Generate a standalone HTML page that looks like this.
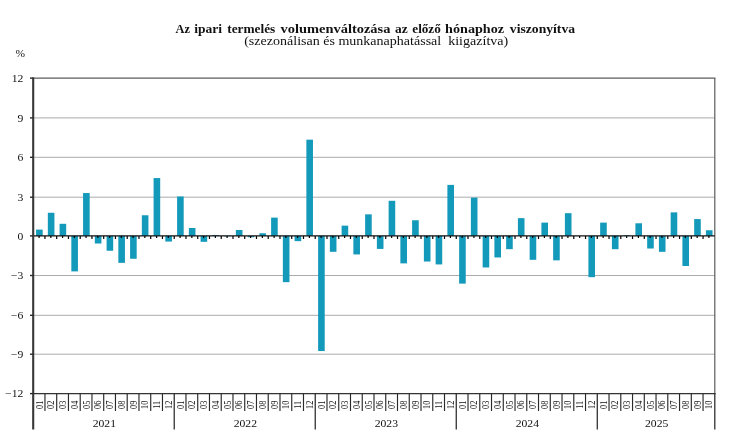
<!DOCTYPE html><html lang="hu"><head><meta charset="utf-8"><title>Az ipari termelés volumenváltozása</title>
<style>html,body{margin:0;padding:0;background:#fff}body{width:730px;height:441px;overflow:hidden}svg{display:block}text{font-family:"Liberation Serif",serif;fill:#111}</style></head><body>
<svg width="730" height="441" viewBox="0 0 730 441">
<rect width="730" height="441" fill="#fff"/>
<text y="32.6" font-size="13.2" font-weight="bold" fill="#000"><tspan x="175.5" textLength="14.4" lengthAdjust="spacingAndGlyphs">Az</tspan> <tspan x="194.2" textLength="27.9" lengthAdjust="spacingAndGlyphs">ipari</tspan> <tspan x="227.2" textLength="48.1" lengthAdjust="spacingAndGlyphs">termelés</tspan> <tspan x="280.5" textLength="109.9" lengthAdjust="spacingAndGlyphs">volumenváltozása</tspan> <tspan x="395.0" textLength="12.7" lengthAdjust="spacingAndGlyphs">az</tspan> <tspan x="412.3" textLength="28.5" lengthAdjust="spacingAndGlyphs">előző</tspan> <tspan x="445.1" textLength="59.0" lengthAdjust="spacingAndGlyphs">hónaphoz</tspan> <tspan x="509.8" textLength="65.3" lengthAdjust="spacingAndGlyphs">viszonyítva</tspan></text>
<text x="244.2" y="45.4" textLength="264" lengthAdjust="spacingAndGlyphs" font-size="13" xml:space="preserve">(szezonálisan és munkanaphatással  kiigazítva)</text>
<text transform="translate(15.4 56.8) scale(1.1 1)" font-size="10.4">%</text>
<line x1="33.2" x2="714.8" y1="78.10" y2="78.10" stroke="#5c5c5c" stroke-width="1.2" stroke-linecap="square"/>
<line x1="33.2" x2="714.8" y1="117.90" y2="117.90" stroke="#a6a6a6" stroke-width="0.95"/>
<line x1="33.2" x2="714.8" y1="157.30" y2="157.30" stroke="#a6a6a6" stroke-width="0.95"/>
<line x1="33.2" x2="714.8" y1="197.20" y2="197.20" stroke="#a6a6a6" stroke-width="0.95"/>
<line x1="33.2" x2="714.8" y1="275.50" y2="275.50" stroke="#a6a6a6" stroke-width="0.95"/>
<line x1="33.2" x2="714.8" y1="315.30" y2="315.30" stroke="#a6a6a6" stroke-width="0.95"/>
<line x1="33.2" x2="714.8" y1="354.20" y2="354.20" stroke="#a6a6a6" stroke-width="0.95"/>
<line x1="714.8" x2="714.8" y1="78.1" y2="393.6" stroke="#5c5c5c" stroke-width="1.2"/>
<rect x="36.08" y="229.59" width="6.6" height="6.31" fill="#1399ba"/>
<rect x="47.83" y="212.76" width="6.6" height="23.14" fill="#1399ba"/>
<rect x="59.58" y="223.81" width="6.6" height="12.09" fill="#1399ba"/>
<rect x="71.33" y="235.90" width="6.6" height="35.49" fill="#1399ba"/>
<rect x="83.08" y="193.04" width="6.6" height="42.86" fill="#1399ba"/>
<rect x="94.83" y="235.90" width="6.6" height="7.62" fill="#1399ba"/>
<rect x="106.59" y="235.90" width="6.6" height="14.85" fill="#1399ba"/>
<rect x="118.34" y="235.90" width="6.6" height="26.95" fill="#1399ba"/>
<rect x="130.09" y="235.90" width="6.6" height="22.87" fill="#1399ba"/>
<rect x="141.84" y="215.26" width="6.6" height="20.64" fill="#1399ba"/>
<rect x="153.59" y="178.06" width="6.6" height="57.84" fill="#1399ba"/>
<rect x="165.34" y="235.90" width="6.6" height="5.65" fill="#1399ba"/>
<rect x="177.10" y="196.46" width="6.6" height="39.44" fill="#1399ba"/>
<rect x="188.85" y="228.01" width="6.6" height="7.89" fill="#1399ba"/>
<rect x="200.60" y="235.90" width="6.6" height="5.92" fill="#1399ba"/>
<rect x="212.35" y="234.98" width="6.6" height="0.92" fill="#1399ba"/>
<rect x="224.10" y="235.90" width="6.6" height="0.39" fill="#1399ba"/>
<rect x="235.86" y="229.98" width="6.6" height="5.92" fill="#1399ba"/>
<rect x="247.61" y="235.90" width="6.6" height="1.31" fill="#1399ba"/>
<rect x="259.36" y="233.27" width="6.6" height="2.63" fill="#1399ba"/>
<rect x="271.11" y="217.63" width="6.6" height="18.27" fill="#1399ba"/>
<rect x="282.86" y="235.90" width="6.6" height="46.27" fill="#1399ba"/>
<rect x="294.61" y="235.90" width="6.6" height="5.26" fill="#1399ba"/>
<rect x="306.37" y="139.67" width="6.6" height="96.23" fill="#1399ba"/>
<rect x="318.12" y="235.90" width="6.6" height="115.16" fill="#1399ba"/>
<rect x="329.87" y="235.90" width="6.6" height="15.91" fill="#1399ba"/>
<rect x="341.62" y="225.65" width="6.6" height="10.25" fill="#1399ba"/>
<rect x="353.37" y="235.90" width="6.6" height="18.54" fill="#1399ba"/>
<rect x="365.12" y="214.34" width="6.6" height="21.56" fill="#1399ba"/>
<rect x="376.88" y="235.90" width="6.6" height="13.01" fill="#1399ba"/>
<rect x="388.63" y="200.80" width="6.6" height="35.10" fill="#1399ba"/>
<rect x="400.38" y="235.90" width="6.6" height="27.47" fill="#1399ba"/>
<rect x="412.13" y="220.26" width="6.6" height="15.64" fill="#1399ba"/>
<rect x="423.88" y="235.90" width="6.6" height="25.63" fill="#1399ba"/>
<rect x="435.63" y="235.90" width="6.6" height="28.53" fill="#1399ba"/>
<rect x="447.39" y="184.89" width="6.6" height="51.01" fill="#1399ba"/>
<rect x="459.14" y="235.90" width="6.6" height="47.72" fill="#1399ba"/>
<rect x="470.89" y="197.65" width="6.6" height="38.25" fill="#1399ba"/>
<rect x="482.64" y="235.90" width="6.6" height="31.55" fill="#1399ba"/>
<rect x="494.39" y="235.90" width="6.6" height="21.56" fill="#1399ba"/>
<rect x="506.14" y="235.90" width="6.6" height="13.28" fill="#1399ba"/>
<rect x="517.90" y="218.15" width="6.6" height="17.75" fill="#1399ba"/>
<rect x="529.65" y="235.90" width="6.6" height="23.93" fill="#1399ba"/>
<rect x="541.40" y="222.62" width="6.6" height="13.28" fill="#1399ba"/>
<rect x="553.15" y="235.90" width="6.6" height="24.45" fill="#1399ba"/>
<rect x="564.90" y="213.16" width="6.6" height="22.74" fill="#1399ba"/>
<rect x="588.41" y="235.90" width="6.6" height="41.28" fill="#1399ba"/>
<rect x="600.16" y="222.62" width="6.6" height="13.28" fill="#1399ba"/>
<rect x="611.91" y="235.90" width="6.6" height="13.28" fill="#1399ba"/>
<rect x="623.66" y="235.24" width="6.6" height="0.66" fill="#1399ba"/>
<rect x="635.41" y="223.28" width="6.6" height="12.62" fill="#1399ba"/>
<rect x="647.17" y="235.90" width="6.6" height="12.62" fill="#1399ba"/>
<rect x="658.92" y="235.90" width="6.6" height="15.91" fill="#1399ba"/>
<rect x="670.67" y="212.37" width="6.6" height="23.53" fill="#1399ba"/>
<rect x="682.42" y="235.90" width="6.6" height="30.10" fill="#1399ba"/>
<rect x="694.17" y="219.07" width="6.6" height="16.83" fill="#1399ba"/>
<rect x="705.92" y="230.25" width="6.6" height="5.65" fill="#1399ba"/>
<line x1="33.2" x2="714.8" y1="235.90" y2="235.90" stroke="#111" stroke-width="1.4"/>
<path d="M39.08 235.90v2.2M44.95 235.90v3.2M50.83 235.90v2.2M56.70 235.90v3.2M62.58 235.90v2.2M68.46 235.90v3.2M74.33 235.90v2.2M80.21 235.90v3.2M86.08 235.90v2.2M91.96 235.90v3.2M97.83 235.90v2.2M103.71 235.90v3.2M109.59 235.90v2.2M115.46 235.90v3.2M121.34 235.90v2.2M127.21 235.90v3.2M133.09 235.90v2.2M138.97 235.90v3.2M144.84 235.90v2.2M150.72 235.90v3.2M156.59 235.90v2.2M162.47 235.90v3.2M168.34 235.90v2.2M174.22 235.90v3.2M180.10 235.90v2.2M185.97 235.90v3.2M191.85 235.90v2.2M197.72 235.90v3.2M203.60 235.90v2.2M209.48 235.90v3.2M215.35 235.90v2.2M221.23 235.90v3.2M227.10 235.90v2.2M232.98 235.90v3.2M238.86 235.90v2.2M244.73 235.90v3.2M250.61 235.90v2.2M256.48 235.90v3.2M262.36 235.90v2.2M268.23 235.90v3.2M274.11 235.90v2.2M279.99 235.90v3.2M285.86 235.90v2.2M291.74 235.90v3.2M297.61 235.90v2.2M303.49 235.90v3.2M309.37 235.90v2.2M315.24 235.90v3.2M321.12 235.90v2.2M326.99 235.90v3.2M332.87 235.90v2.2M338.74 235.90v3.2M344.62 235.90v2.2M350.50 235.90v3.2M356.37 235.90v2.2M362.25 235.90v3.2M368.12 235.90v2.2M374.00 235.90v3.2M379.88 235.90v2.2M385.75 235.90v3.2M391.63 235.90v2.2M397.50 235.90v3.2M403.38 235.90v2.2M409.26 235.90v3.2M415.13 235.90v2.2M421.01 235.90v3.2M426.88 235.90v2.2M432.76 235.90v3.2M438.63 235.90v2.2M444.51 235.90v3.2M450.39 235.90v2.2M456.26 235.90v3.2M462.14 235.90v2.2M468.01 235.90v3.2M473.89 235.90v2.2M479.77 235.90v3.2M485.64 235.90v2.2M491.52 235.90v3.2M497.39 235.90v2.2M503.27 235.90v3.2M509.14 235.90v2.2M515.02 235.90v3.2M520.90 235.90v2.2M526.77 235.90v3.2M532.65 235.90v2.2M538.52 235.90v3.2M544.40 235.90v2.2M550.28 235.90v3.2M556.15 235.90v2.2M562.03 235.90v3.2M567.90 235.90v2.2M573.78 235.90v3.2M579.66 235.90v2.2M585.53 235.90v3.2M591.41 235.90v2.2M597.28 235.90v3.2M603.16 235.90v2.2M609.03 235.90v3.2M614.91 235.90v2.2M620.79 235.90v3.2M626.66 235.90v2.2M632.54 235.90v3.2M638.41 235.90v2.2M644.29 235.90v3.2M650.17 235.90v2.2M656.04 235.90v3.2M661.92 235.90v2.2M667.79 235.90v3.2M673.67 235.90v2.2M679.54 235.90v3.2M685.42 235.90v2.2M691.30 235.90v3.2M697.17 235.90v2.2M703.05 235.90v3.2M708.92 235.90v2.2" stroke="#000" stroke-width="1.2" fill="none"/>
<line x1="33.2" x2="33.2" y1="77.5" y2="429.5" stroke="#383838" stroke-width="2.1"/>
<line x1="30.000000000000004" x2="33.2" y1="78.10" y2="78.10" stroke="#2a2a2a" stroke-width="1.4"/>
<text transform="translate(23.4 81.80) scale(1.1 1)" text-anchor="end" font-size="10.6">12</text>
<line x1="30.000000000000004" x2="33.2" y1="117.90" y2="117.90" stroke="#2a2a2a" stroke-width="1.4"/>
<text transform="translate(23.4 121.60) scale(1.1 1)" text-anchor="end" font-size="10.6">9</text>
<line x1="30.000000000000004" x2="33.2" y1="157.30" y2="157.30" stroke="#2a2a2a" stroke-width="1.4"/>
<text transform="translate(23.4 161.00) scale(1.1 1)" text-anchor="end" font-size="10.6">6</text>
<line x1="30.000000000000004" x2="33.2" y1="197.20" y2="197.20" stroke="#2a2a2a" stroke-width="1.4"/>
<text transform="translate(23.4 200.90) scale(1.1 1)" text-anchor="end" font-size="10.6">3</text>
<line x1="30.000000000000004" x2="33.2" y1="235.90" y2="235.90" stroke="#2a2a2a" stroke-width="1.4"/>
<text transform="translate(23.4 239.60) scale(1.1 1)" text-anchor="end" font-size="10.6">0</text>
<line x1="30.000000000000004" x2="33.2" y1="275.50" y2="275.50" stroke="#2a2a2a" stroke-width="1.4"/>
<text transform="translate(23.4 279.20) scale(1.1 1)" text-anchor="end" font-size="10.6">−3</text>
<line x1="30.000000000000004" x2="33.2" y1="315.30" y2="315.30" stroke="#2a2a2a" stroke-width="1.4"/>
<text transform="translate(23.4 319.00) scale(1.1 1)" text-anchor="end" font-size="10.6">−6</text>
<line x1="30.000000000000004" x2="33.2" y1="354.20" y2="354.20" stroke="#2a2a2a" stroke-width="1.4"/>
<text transform="translate(23.4 357.90) scale(1.1 1)" text-anchor="end" font-size="10.6">−9</text>
<line x1="30.000000000000004" x2="33.2" y1="393.60" y2="393.60" stroke="#2a2a2a" stroke-width="1.4"/>
<text transform="translate(23.4 397.30) scale(1.1 1)" text-anchor="end" font-size="10.6">−12</text>
<line x1="33.2" x2="715.5999999999999" y1="393.6" y2="393.6" stroke="#333" stroke-width="1.2"/>
<path d="M44.95 393.60V411M56.70 393.60V411M68.46 393.60V411M80.21 393.60V411M91.96 393.60V411M103.71 393.60V411M115.46 393.60V411M127.21 393.60V411M138.97 393.60V411M150.72 393.60V411M162.47 393.60V411M185.97 393.60V411M197.72 393.60V411M209.48 393.60V411M221.23 393.60V411M232.98 393.60V411M244.73 393.60V411M256.48 393.60V411M268.23 393.60V411M279.99 393.60V411M291.74 393.60V411M303.49 393.60V411M326.99 393.60V411M338.74 393.60V411M350.50 393.60V411M362.25 393.60V411M374.00 393.60V411M385.75 393.60V411M397.50 393.60V411M409.26 393.60V411M421.01 393.60V411M432.76 393.60V411M444.51 393.60V411M468.01 393.60V411M479.77 393.60V411M491.52 393.60V411M503.27 393.60V411M515.02 393.60V411M526.77 393.60V411M538.52 393.60V411M550.28 393.60V411M562.03 393.60V411M573.78 393.60V411M585.53 393.60V411M609.03 393.60V411M620.79 393.60V411M632.54 393.60V411M644.29 393.60V411M656.04 393.60V411M667.79 393.60V411M679.54 393.60V411M691.30 393.60V411M703.05 393.60V411" stroke="#2a2a2a" stroke-width="1.15" fill="none"/>
<path d="M174.22 393.60V429.6M315.24 393.60V429.6M456.26 393.60V429.6M597.28 393.60V429.6M714.80 393.60V429.6" stroke="#2a2a2a" stroke-width="1.25" fill="none"/>
<text transform="translate(42.58 404.8) scale(1.2 1) rotate(-90)" text-anchor="middle" font-size="8.4">01</text>
<text transform="translate(54.33 404.8) scale(1.2 1) rotate(-90)" text-anchor="middle" font-size="8.4">02</text>
<text transform="translate(66.08 404.8) scale(1.2 1) rotate(-90)" text-anchor="middle" font-size="8.4">03</text>
<text transform="translate(77.83 404.8) scale(1.2 1) rotate(-90)" text-anchor="middle" font-size="8.4">04</text>
<text transform="translate(89.58 404.8) scale(1.2 1) rotate(-90)" text-anchor="middle" font-size="8.4">05</text>
<text transform="translate(101.33 404.8) scale(1.2 1) rotate(-90)" text-anchor="middle" font-size="8.4">06</text>
<text transform="translate(113.09 404.8) scale(1.2 1) rotate(-90)" text-anchor="middle" font-size="8.4">07</text>
<text transform="translate(124.84 404.8) scale(1.2 1) rotate(-90)" text-anchor="middle" font-size="8.4">08</text>
<text transform="translate(136.59 404.8) scale(1.2 1) rotate(-90)" text-anchor="middle" font-size="8.4">09</text>
<text transform="translate(148.34 404.8) scale(1.2 1) rotate(-90)" text-anchor="middle" font-size="8.4">10</text>
<text transform="translate(160.09 404.8) scale(1.2 1) rotate(-90)" text-anchor="middle" font-size="8.4">11</text>
<text transform="translate(171.84 404.8) scale(1.2 1) rotate(-90)" text-anchor="middle" font-size="8.4">12</text>
<text transform="translate(183.60 404.8) scale(1.2 1) rotate(-90)" text-anchor="middle" font-size="8.4">01</text>
<text transform="translate(195.35 404.8) scale(1.2 1) rotate(-90)" text-anchor="middle" font-size="8.4">02</text>
<text transform="translate(207.10 404.8) scale(1.2 1) rotate(-90)" text-anchor="middle" font-size="8.4">03</text>
<text transform="translate(218.85 404.8) scale(1.2 1) rotate(-90)" text-anchor="middle" font-size="8.4">04</text>
<text transform="translate(230.60 404.8) scale(1.2 1) rotate(-90)" text-anchor="middle" font-size="8.4">05</text>
<text transform="translate(242.36 404.8) scale(1.2 1) rotate(-90)" text-anchor="middle" font-size="8.4">06</text>
<text transform="translate(254.11 404.8) scale(1.2 1) rotate(-90)" text-anchor="middle" font-size="8.4">07</text>
<text transform="translate(265.86 404.8) scale(1.2 1) rotate(-90)" text-anchor="middle" font-size="8.4">08</text>
<text transform="translate(277.61 404.8) scale(1.2 1) rotate(-90)" text-anchor="middle" font-size="8.4">09</text>
<text transform="translate(289.36 404.8) scale(1.2 1) rotate(-90)" text-anchor="middle" font-size="8.4">10</text>
<text transform="translate(301.11 404.8) scale(1.2 1) rotate(-90)" text-anchor="middle" font-size="8.4">11</text>
<text transform="translate(312.87 404.8) scale(1.2 1) rotate(-90)" text-anchor="middle" font-size="8.4">12</text>
<text transform="translate(324.62 404.8) scale(1.2 1) rotate(-90)" text-anchor="middle" font-size="8.4">01</text>
<text transform="translate(336.37 404.8) scale(1.2 1) rotate(-90)" text-anchor="middle" font-size="8.4">02</text>
<text transform="translate(348.12 404.8) scale(1.2 1) rotate(-90)" text-anchor="middle" font-size="8.4">03</text>
<text transform="translate(359.87 404.8) scale(1.2 1) rotate(-90)" text-anchor="middle" font-size="8.4">04</text>
<text transform="translate(371.62 404.8) scale(1.2 1) rotate(-90)" text-anchor="middle" font-size="8.4">05</text>
<text transform="translate(383.38 404.8) scale(1.2 1) rotate(-90)" text-anchor="middle" font-size="8.4">06</text>
<text transform="translate(395.13 404.8) scale(1.2 1) rotate(-90)" text-anchor="middle" font-size="8.4">07</text>
<text transform="translate(406.88 404.8) scale(1.2 1) rotate(-90)" text-anchor="middle" font-size="8.4">08</text>
<text transform="translate(418.63 404.8) scale(1.2 1) rotate(-90)" text-anchor="middle" font-size="8.4">09</text>
<text transform="translate(430.38 404.8) scale(1.2 1) rotate(-90)" text-anchor="middle" font-size="8.4">10</text>
<text transform="translate(442.13 404.8) scale(1.2 1) rotate(-90)" text-anchor="middle" font-size="8.4">11</text>
<text transform="translate(453.89 404.8) scale(1.2 1) rotate(-90)" text-anchor="middle" font-size="8.4">12</text>
<text transform="translate(465.64 404.8) scale(1.2 1) rotate(-90)" text-anchor="middle" font-size="8.4">01</text>
<text transform="translate(477.39 404.8) scale(1.2 1) rotate(-90)" text-anchor="middle" font-size="8.4">02</text>
<text transform="translate(489.14 404.8) scale(1.2 1) rotate(-90)" text-anchor="middle" font-size="8.4">03</text>
<text transform="translate(500.89 404.8) scale(1.2 1) rotate(-90)" text-anchor="middle" font-size="8.4">04</text>
<text transform="translate(512.64 404.8) scale(1.2 1) rotate(-90)" text-anchor="middle" font-size="8.4">05</text>
<text transform="translate(524.40 404.8) scale(1.2 1) rotate(-90)" text-anchor="middle" font-size="8.4">06</text>
<text transform="translate(536.15 404.8) scale(1.2 1) rotate(-90)" text-anchor="middle" font-size="8.4">07</text>
<text transform="translate(547.90 404.8) scale(1.2 1) rotate(-90)" text-anchor="middle" font-size="8.4">08</text>
<text transform="translate(559.65 404.8) scale(1.2 1) rotate(-90)" text-anchor="middle" font-size="8.4">09</text>
<text transform="translate(571.40 404.8) scale(1.2 1) rotate(-90)" text-anchor="middle" font-size="8.4">10</text>
<text transform="translate(583.16 404.8) scale(1.2 1) rotate(-90)" text-anchor="middle" font-size="8.4">11</text>
<text transform="translate(594.91 404.8) scale(1.2 1) rotate(-90)" text-anchor="middle" font-size="8.4">12</text>
<text transform="translate(606.66 404.8) scale(1.2 1) rotate(-90)" text-anchor="middle" font-size="8.4">01</text>
<text transform="translate(618.41 404.8) scale(1.2 1) rotate(-90)" text-anchor="middle" font-size="8.4">02</text>
<text transform="translate(630.16 404.8) scale(1.2 1) rotate(-90)" text-anchor="middle" font-size="8.4">03</text>
<text transform="translate(641.91 404.8) scale(1.2 1) rotate(-90)" text-anchor="middle" font-size="8.4">04</text>
<text transform="translate(653.67 404.8) scale(1.2 1) rotate(-90)" text-anchor="middle" font-size="8.4">05</text>
<text transform="translate(665.42 404.8) scale(1.2 1) rotate(-90)" text-anchor="middle" font-size="8.4">06</text>
<text transform="translate(677.17 404.8) scale(1.2 1) rotate(-90)" text-anchor="middle" font-size="8.4">07</text>
<text transform="translate(688.92 404.8) scale(1.2 1) rotate(-90)" text-anchor="middle" font-size="8.4">08</text>
<text transform="translate(700.67 404.8) scale(1.2 1) rotate(-90)" text-anchor="middle" font-size="8.4">09</text>
<text transform="translate(712.42 404.8) scale(1.2 1) rotate(-90)" text-anchor="middle" font-size="8.4">10</text>
<text transform="translate(104.31 427) scale(1.1 1)" text-anchor="middle" font-size="10.6">2021</text>
<text transform="translate(245.33 427) scale(1.1 1)" text-anchor="middle" font-size="10.6">2022</text>
<text transform="translate(386.35 427) scale(1.1 1)" text-anchor="middle" font-size="10.6">2023</text>
<text transform="translate(527.37 427) scale(1.1 1)" text-anchor="middle" font-size="10.6">2024</text>
<text transform="translate(656.64 427) scale(1.1 1)" text-anchor="middle" font-size="10.6">2025</text>
</svg></body></html>
